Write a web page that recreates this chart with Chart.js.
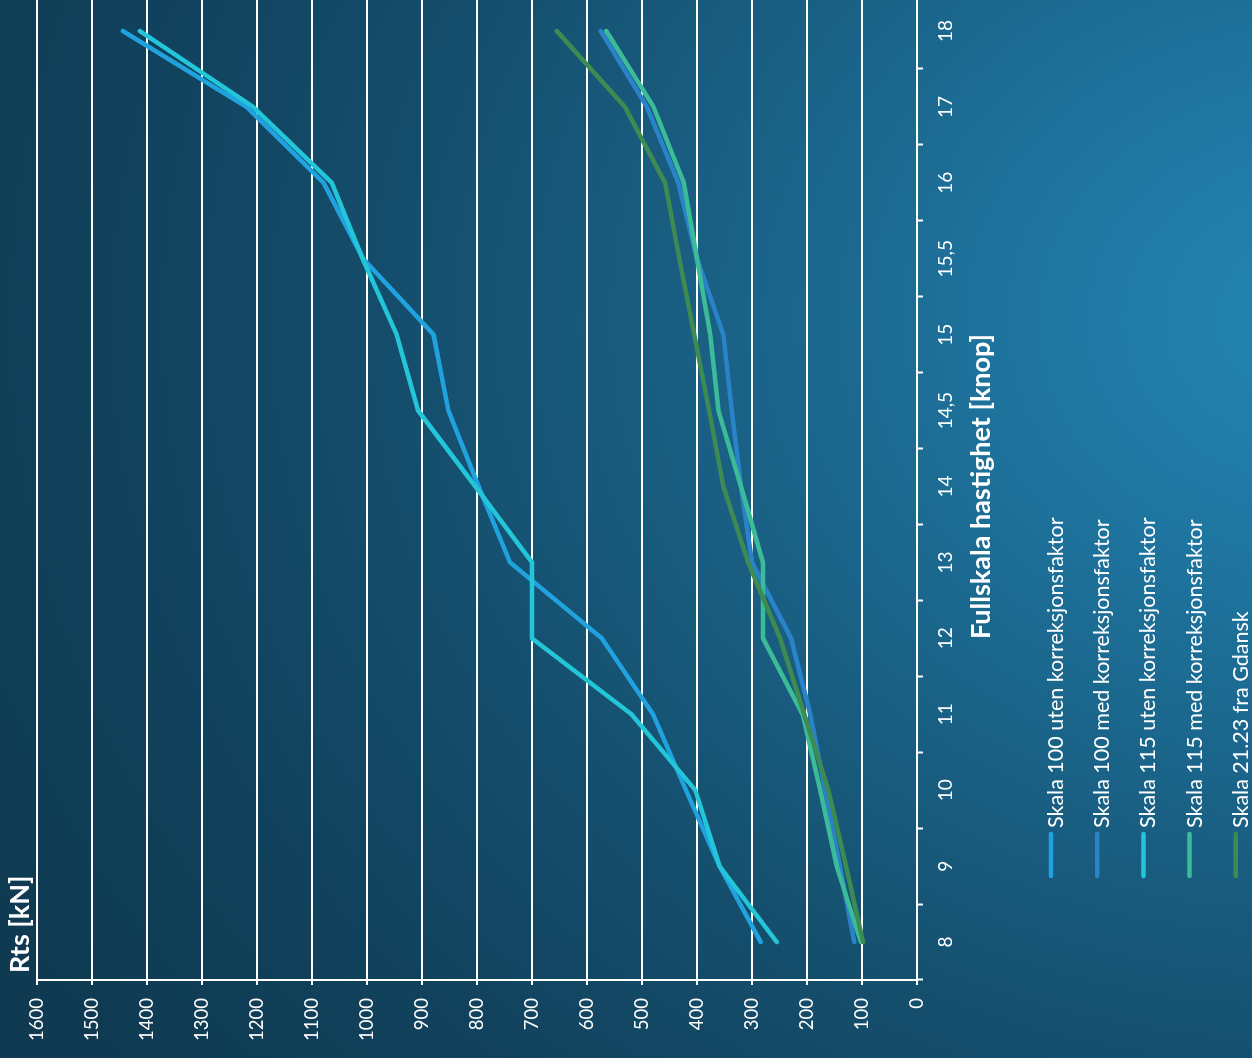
<!DOCTYPE html>
<html lang="no">
<head>
<meta charset="utf-8">
<title>Rts mot fullskala hastighet</title>
<script src="https://cdn.jsdelivr.net/npm/chart.js@4.4.1/dist/chart.umd.min.js"></script>
<style>
  html, body {
    margin: 0;
    padding: 0;
    width: 1252px;
    height: 1058px;
    overflow: hidden;
  }
  body {
    background:
      radial-gradient(ellipse 1500px 1250px at 1320px 320px,
        #2385b2 0%, #1f77a2 18%, #1a6388 38%, #154f6e 60%, #11425d 80%, #0f3a52 100%);
  }
  /* the chart is laid out upright and then turned a quarter turn counter-clockwise */
  #frame {
    position: absolute;
    left: 0;
    top: 0;
    width: 1080px;
    height: 1252px;
    transform-origin: 0 0;
    transform: translate(0px, 1058px) rotate(-90deg);
  }
  canvas { display: block; }
</style>
</head>
<body>
<div id="frame"><canvas id="rts" width="1080" height="1252"></canvas></div>
<script>
// Full-scale speed in knots
const speeds = ['8', '9', '10', '11', '12', '13', '14', '14,5', '15', '15,5', '16', '17', '18'];

// Total resistance Rts [kN]
const skala100Uten = [284, 359, 420, 480, 573, 740, 797, 852, 879, 1007, 1079, 1219, 1444];
const skala100Med  = [114, 140, 167, 194, 229, 300, 320, 337, 352, 400, 434, 491, 575];
const skala115Uten = [255, 359, 403, 519, 700, 700, 803, 907, 946, 1008, 1064, 1207, 1413];
const skala115Med  = [102, 146, 176, 208, 280, 280, 320, 361, 376, 400, 424, 479, 565];
const gdansk       = [98, 129, 161, 205, 249, 307, 352, 378, 405, 432, 458, 531, 655];

const seriesLabels = [
  'Skala 100 uten korreksjonsfaktor',
  'Skala 100 med korreksjonsfaktor',
  'Skala 115 uten korreksjonsfaktor',
  'Skala 115 med korreksjonsfaktor',
  'Skala 21.23 fra Gdansk'
];
const seriesColors = ['#1fa2de', '#2a82c8', '#22c6d8', '#3bbb97', '#3d8b52'];

const xTitle = 'Fullskala hastighet [knop]';
const yTitle = 'Rts [kN]';

const FONT = 'Lato, "Open Sans", "DejaVu Sans", sans-serif';

// Axis titles and the stacked legend below the x axis
const decor = {
  id: 'decor',
  afterDraw(chart) {
    const ctx = chart.ctx;
    const a = chart.chartArea;
    ctx.save();
    ctx.fillStyle = '#ffffff';
    ctx.textBaseline = 'alphabetic';

    ctx.font = 'bold 27px ' + FONT;
    ctx.textAlign = 'left';
    ctx.fillText(yTitle, a.left + 7, 29);

    ctx.font = 'bold 27px ' + FONT;
    ctx.textAlign = 'center';
    ctx.fillText(xTitle, (a.left + a.right) / 2, 990);

    ctx.font = '21.5px ' + FONT;
    ctx.textAlign = 'left';
    chart.data.datasets.forEach((ds, i) => {
      const y = 1051 + i * 46.2;
      ctx.strokeStyle = ds.borderColor;
      ctx.lineWidth = 4.5;
      ctx.lineCap = 'round';
      ctx.beginPath();
      ctx.moveTo(182, y);
      ctx.lineTo(224, y);
      ctx.stroke();
      ctx.fillText(ds.label, 230, y + 12);
    });
    ctx.restore();
  }
};

const seriesData = [skala100Uten, skala100Med, skala115Uten, skala115Med, gdansk];

function build() {
  new Chart(document.getElementById('rts'), {
    type: 'line',
    data: {
      labels: speeds,
      datasets: seriesData.map((values, i) => ({
        label: seriesLabels[i],
        data: values,
        borderColor: seriesColors[i],
        backgroundColor: seriesColors[i],
        borderWidth: 4.5,
        borderCapStyle: 'round',
        pointRadius: 0,
        pointHoverRadius: 0,
        tension: 0,
        fill: false,
        order: seriesData.length - i
      }))
    },
    options: {
      responsive: false,
      animation: false,
      devicePixelRatio: 1,
      layout: { padding: { top: 37, right: 15, bottom: 0, left: 0 } },
      plugins: {
        legend: { display: false },
        tooltip: { enabled: false },
        title: { display: false }
      },
      scales: {
        x: {
          type: 'category',
          offset: true,
          afterFit(scale) { scale.height = 335; },
          grid: {
            offset: true,
            drawOnChartArea: false,
            drawTicks: true,
            tickLength: 6,
            tickColor: '#ffffff',
            tickWidth: 2
          },
          border: { display: true, color: '#ffffff', width: 2 },
          ticks: {
            color: '#ffffff',
            font: { family: FONT, size: 19 },
            padding: 11,
            maxRotation: 0,
            minRotation: 0,
            autoSkip: false
          }
        },
        y: {
          min: 0,
          max: 1600,
          afterFit(scale) { scale.width = 78; },
          grid: {
            color: '#ffffff',
            lineWidth: 2,
            drawTicks: true,
            tickLength: 5,
            tickColor: '#ffffff',
            tickWidth: 2
          },
          border: { display: true, color: '#ffffff', width: 2 },
          ticks: {
            stepSize: 100,
            color: '#ffffff',
            font: { family: FONT, size: 18.5 },
            padding: 13,
            callback: (value) => String(value)
          }
        }
      }
    },
    plugins: [decor]
  });
}

const fontLoads = [
  document.fonts.load('18px Lato'),
  document.fonts.load('bold 22px Lato')
];
Promise.all(fontLoads).then(build, build);
</script>
</body>
</html>
